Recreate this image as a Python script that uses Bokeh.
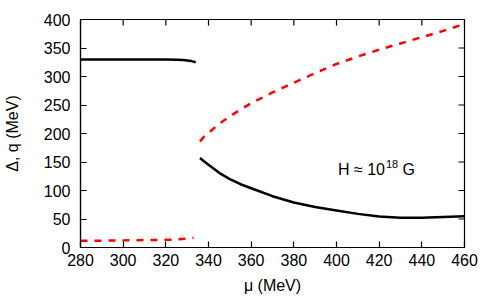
import math
from bokeh.plotting import figure
from bokeh.models import Label, FixedTicker, Range1d
from bokeh.embed import file_html
from bokeh.resources import INLINE

# ---- data ----
mu_gap1 = [280, 290, 300, 310, 320, 325, 328, 330, 332, 334]
gap1 = [330, 330, 330, 330, 330, 329.5, 329, 328, 327, 325]

mu_gap2 = [336, 338, 340, 345, 350, 355, 360, 370, 380, 390, 400, 410, 420, 430, 440, 450, 460]
gap2 = [157, 151, 145, 131, 120, 111, 104, 90, 79, 71, 65, 59, 54.5, 52, 52, 53.5, 55]

mu_q1 = [280, 290, 300, 310, 320, 325, 330, 333]
q1 = [12, 12, 12.5, 13, 13.5, 14, 15.5, 17]

mu_q2 = [336, 338, 340, 345, 350, 355, 360, 370, 380, 390, 400, 410, 420, 430, 440, 450, 460]
q2 = [186, 195, 201, 217, 230, 242, 253, 272, 289, 306, 322, 335, 347, 358, 369, 380, 392]

x_ticks = [280, 300, 320, 340, 360, 380, 400, 420, 440, 460]
y_ticks = [0, 50, 100, 150, 200, 250, 300, 350, 400]
X_MIN, X_MAX = 280, 460
Y_MIN, Y_MAX = 0, 400

FONT = "Liberation Sans"

p = figure(width=500, height=300, x_range=Range1d(X_MIN, X_MAX), y_range=Range1d(Y_MIN, Y_MAX),
           output_backend="svg", toolbar_location=None,
           min_border_left=78, min_border_right=36, min_border_top=19, min_border_bottom=53)
p.grid.visible = False
p.outline_line_color = "black"
p.outline_line_width = 1.2
p.background_fill_color = "white"
p.border_fill_color = "white"

for ax, ticks, standoff in ((p.xaxis[0], x_ticks, 6), (p.yaxis[0], y_ticks, 10)):
    ax.ticker = FixedTicker(ticks=ticks)
    ax.major_tick_in = 6
    ax.major_tick_out = 0
    ax.minor_tick_line_color = None
    ax.major_tick_line_color = "black"
    ax.major_tick_line_width = 1.2
    ax.axis_line_color = "black"
    ax.axis_line_width = 1.2
    ax.major_label_text_font = FONT
    ax.major_label_text_font_size = "16px"
    ax.major_label_text_color = "black"
    ax.major_label_standoff = standoff
    ax.axis_label_text_font = FONT
    ax.axis_label_text_font_size = "16px"
    ax.axis_label_text_font_style = "normal"
    ax.axis_label_text_color = "black"

p.yaxis[0].axis_label = "Δ, q (MeV)"
p.yaxis[0].axis_label_standoff = 20
p.xaxis[0].axis_label = "μ (MeV)"
p.xaxis[0].axis_label_standoff = 8

# inward ticks on the top and right edges of the box
p.ray(x=x_ticks, y=[Y_MAX] * len(x_ticks), length=6, length_units="screen",
      angle=-math.pi / 2, line_color="black", line_width=1.2)
p.ray(x=[X_MAX] * len(y_ticks), y=y_ticks, length=6, length_units="screen",
      angle=math.pi, line_color="black", line_width=1.2)

p.line(mu_gap1, gap1, line_color="black", line_width=2.5)
p.line(mu_gap2, gap2, line_color="black", line_width=2.5)
p.line(mu_q1, q1, line_color="red", line_width=2.5, line_dash="7 7")
p.line(mu_q2, q2, line_color="red", line_width=2.5, line_dash="7 7")

# annotation H ≈ 10^18 G
hx, hy = 400.7, 136.7
p.add_layout(Label(x=hx, y=hy, text="H ≈ 10", text_font=FONT, text_font_size="16px",
                   text_baseline="alphabetic", text_align="left", text_color="black"))
p.add_layout(Label(x=hx, y=hy, x_offset=48, y_offset=6, text="18", text_font=FONT,
                   text_font_size="11px", text_baseline="alphabetic", text_align="left",
                   text_color="black"))
p.add_layout(Label(x=hx, y=hy, x_offset=64.5, text="G", text_font=FONT, text_font_size="16px",
                   text_baseline="alphabetic", text_align="left", text_color="black"))

open("out.html", "w").write(file_html(p, INLINE))
